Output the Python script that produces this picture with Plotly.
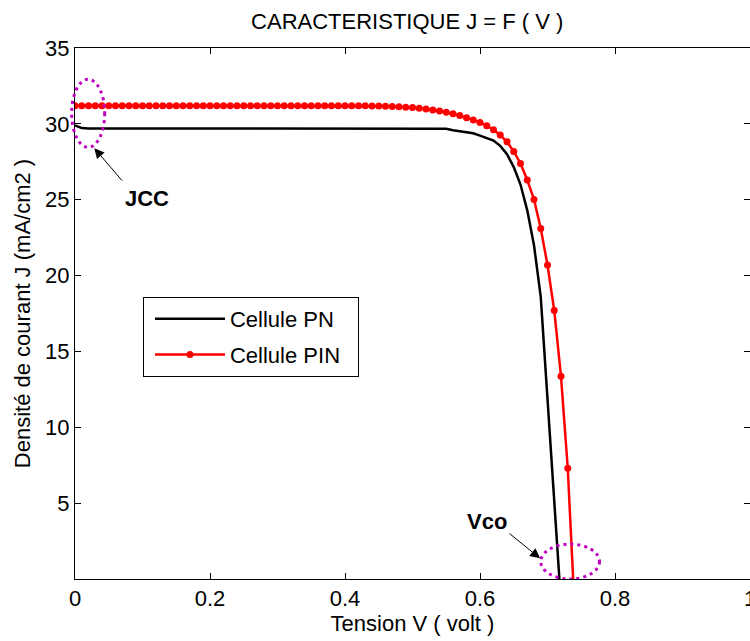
import plotly.graph_objects as go

# ---- data ----
v_pin = [0.00, 0.01, 0.02, 0.03, 0.04, 0.05, 0.06, 0.07, 0.08, 0.09,
         0.10, 0.11, 0.12, 0.13, 0.14, 0.15, 0.16, 0.17, 0.18, 0.19,
         0.20, 0.21, 0.22, 0.23, 0.24, 0.25, 0.26, 0.27, 0.28, 0.29,
         0.30, 0.31, 0.32, 0.33, 0.34, 0.35, 0.36, 0.37, 0.38, 0.39,
         0.40, 0.41, 0.42, 0.43, 0.44, 0.45, 0.46, 0.47, 0.48, 0.49,
         0.50, 0.51, 0.52, 0.53, 0.54, 0.55, 0.56, 0.57, 0.58, 0.59,
         0.60, 0.61, 0.62, 0.63, 0.64, 0.65, 0.66, 0.67, 0.68, 0.69,
         0.70, 0.71, 0.72, 0.73, 0.74]
j_pin = [31.2, 31.2, 31.2, 31.2, 31.2, 31.2, 31.2, 31.2, 31.2, 31.2,
         31.2, 31.2, 31.2, 31.2, 31.2, 31.2, 31.2, 31.2, 31.2, 31.2,
         31.2, 31.2, 31.2, 31.2, 31.2, 31.2, 31.2, 31.2, 31.2, 31.2,
         31.2, 31.2, 31.2, 31.2, 31.2, 31.2, 31.2, 31.2, 31.2, 31.2,
         31.2, 31.2, 31.2, 31.2, 31.18, 31.17, 31.16, 31.15, 31.13, 31.1,
         31.07, 31.03, 30.98, 30.92, 30.85, 30.77, 30.67, 30.55, 30.41, 30.26,
         30.09, 29.88, 29.61, 29.26, 28.82, 28.18, 27.39, 26.3, 25.02, 23.1,
         20.7, 17.7, 13.36, 7.3, -1.8]

v_pn = [0.00, 0.01, 0.02, 0.03, 0.04, 0.05, 0.06, 0.07, 0.08, 0.09,
        0.10, 0.11, 0.12, 0.13, 0.14, 0.15, 0.16, 0.17, 0.18, 0.19,
        0.20, 0.21, 0.22, 0.23, 0.24, 0.25, 0.26, 0.27, 0.28, 0.29,
        0.30, 0.31, 0.32, 0.33, 0.34, 0.35, 0.36, 0.37, 0.38, 0.39,
        0.40, 0.41, 0.42, 0.43, 0.44, 0.45, 0.46, 0.47, 0.48, 0.49,
        0.50, 0.51, 0.52, 0.53, 0.54, 0.55, 0.56, 0.57, 0.58, 0.59,
        0.60, 0.61, 0.62, 0.63, 0.64, 0.65, 0.66, 0.67, 0.68, 0.69,
        0.70, 0.71, 0.72]
j_pn = [29.9, 29.72, 29.7, 29.7, 29.7, 29.7, 29.7, 29.7, 29.7, 29.7,
        29.7, 29.7, 29.7, 29.7, 29.7, 29.7, 29.7, 29.7, 29.7, 29.7,
        29.7, 29.7, 29.7, 29.7, 29.7, 29.7, 29.7, 29.7, 29.7, 29.7,
        29.7, 29.7, 29.7, 29.7, 29.7, 29.7, 29.7, 29.7, 29.7, 29.7,
        29.7, 29.7, 29.7, 29.7, 29.7, 29.7, 29.7, 29.7, 29.7, 29.7,
        29.7, 29.7, 29.7, 29.7, 29.7, 29.68, 29.58, 29.53, 29.47, 29.38,
        29.22, 29.08, 28.9, 28.55, 28.0, 27.15, 26.0, 24.3, 22.0, 18.6,
        12.0, 5.2, -1.6]

x_tickvals = [0, 0.2, 0.4, 0.6, 0.8, 1]
x_ticktext = ["0", "0.2", "0.4", "0.6", "0.8", "1"]
y_tickvals = [5, 10, 15, 20, 25, 30, 35]
y_ticktext = ["5", "10", "15", "20", "25", "30", "35"]

FONT = "Liberation Sans, Arial, sans-serif"
MAG = "#c000c0"

fig = go.Figure()
fig.add_trace(go.Scatter(x=v_pn, y=j_pn, mode="lines", name="Cellule PN",
                         legendgroup="a",
                         line=dict(color="black", width=2.5)))
fig.add_trace(go.Scatter(x=v_pin, y=j_pin, mode="lines+markers", name="Cellule PIN\u00a0\u00a0",
                         legendgroup="b",
                         line=dict(color="#ff0000", width=2.5),
                         marker=dict(color="#ff0000", size=7)))

axis_common = dict(showline=True, linecolor="black", linewidth=1, mirror="ticks",
                   ticks="inside", ticklen=6, tickcolor="black", showgrid=False,
                   zeroline=False, automargin=False, ticklabeloverflow="allow",
                   tickfont=dict(family=FONT, size=22, color="black"))

fig.update_xaxes(range=[0, 1], tickvals=x_tickvals, ticktext=x_ticktext,
                 title=dict(text="Tension V ( volt )", font=dict(family=FONT, size=22, color="black"),
                            standoff=2),
                 **axis_common)
fig.update_yaxes(range=[0, 35], tickvals=y_tickvals, ticktext=y_ticktext,
                 title=dict(text="Densité de courant J (mA/cm2 )", font=dict(family=FONT, size=22, color="black"),
                            standoff=8),
                 **axis_common)

# ellipses
fig.add_shape(type="circle", xref="paper", yref="paper",
              x0=-0.005, x1=0.044, y0=0.813, y1=0.941,
              line=dict(color=MAG, width=3, dash="3px,4px"))
fig.add_shape(type="circle", xref="x", yref="y",
              x0=0.690, x1=0.777, y0=0.0, y1=2.3,
              line=dict(color=MAG, width=3, dash="3px,4px"))

# arrows and labels
fig.add_annotation(x=0.0286, y=28.4, xref="x", yref="y", text="", showarrow=True,
                   ax=29, ay=34, arrowhead=2, arrowsize=2, arrowwidth=1, arrowcolor="black")
fig.add_annotation(x=0.689, y=1.36, xref="x", yref="y", text="", showarrow=True,
                   ax=-32, ay=-26, arrowhead=2, arrowsize=2, arrowwidth=1, arrowcolor="black")
fig.add_annotation(x=0.107, y=25.1, xref="x", yref="y", text="<b>JCC</b>", showarrow=False,
                   font=dict(family=FONT, size=22, color="black"))
fig.add_annotation(x=0.610, y=3.77, xref="x", yref="y", text="<b>Vco</b>", showarrow=False,
                   font=dict(family=FONT, size=22, color="black"))

fig.update_layout(
    width=750, height=641,
    margin=dict(l=75, r=0, t=48, b=62),
    paper_bgcolor="white", plot_bgcolor="white",
    title=dict(text="CARACTERISTIQUE J = F ( V )", x=0.543, xanchor="center",
               y=0.966, yanchor="middle",
               font=dict(family=FONT, size=22, color="black")),
    legend=dict(x=0.1007, y=0.531, xanchor="left", yanchor="top",
                bgcolor="white", bordercolor="black", borderwidth=1,
                font=dict(family=FONT, size=22, color="black"),
                itemwidth=70, indentation=6, traceorder="grouped", tracegroupgap=4),
    showlegend=True,
)

fig.write_html("out.html", config={"displayModeBar": False},
               post_script="document.body.style.margin='0px';")
